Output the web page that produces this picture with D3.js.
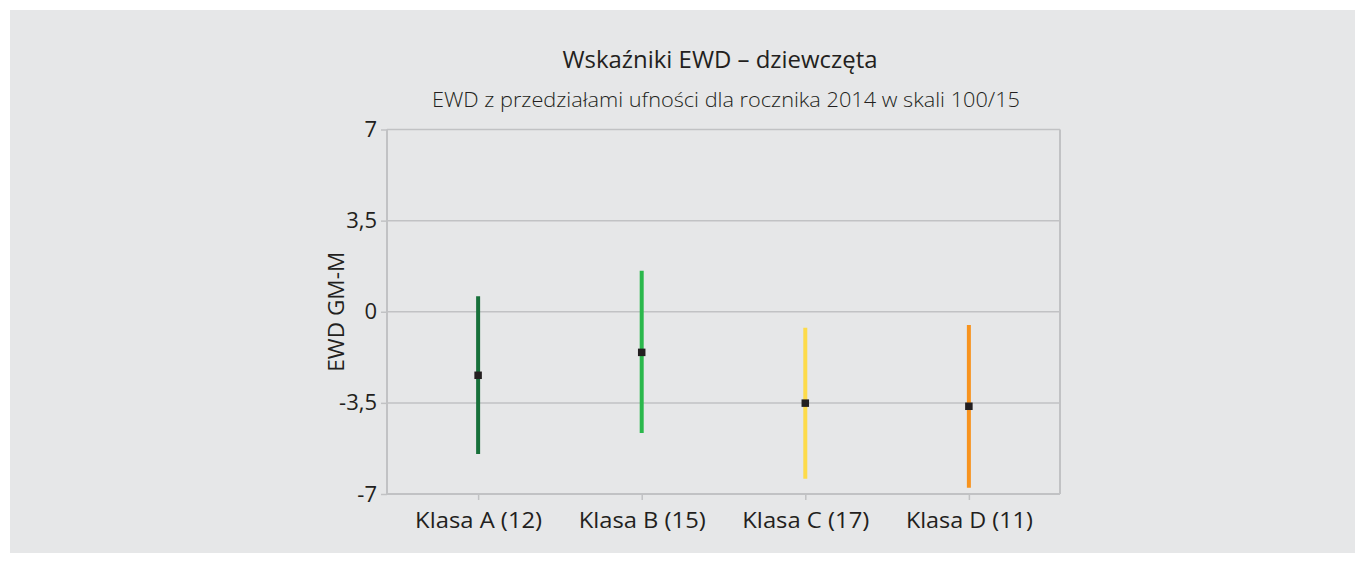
<!DOCTYPE html>
<html>
<head>
<meta charset="utf-8">
<script src="https://cdn.jsdelivr.net/npm/d3@7/dist/d3.min.js"></script>
<style>
  html, body { margin: 0; padding: 0; background: #ffffff; }
  svg { display: block; font-family: "Open Sans", "Noto Sans", sans-serif; }
</style>
</head>
<body>
<svg id="chart" width="1365" height="563"></svg>
<script>
// Classes and their EWD estimates with confidence intervals
const categories = ["Klasa A (12)", "Klasa B (15)", "Klasa C (17)", "Klasa D (11)"];
const ewdValues  = [-2.44, -1.56, -3.51, -3.63];
const lowerBound = [-5.46, -4.66, -6.41, -6.76];
const upperBound = [0.60, 1.57, -0.61, -0.51];
const barColors  = ["#17703a", "#2bb84c", "#fddb4a", "#f7931e"];
const yTicks     = [-7, -3.5, 0, 3.5, 7];

const titleText    = "Wskaźniki EWD – dziewczęta";
const subtitleText = "EWD z przedziałami ufności dla rocznika 2014 w skali 100/15";
const yAxisLabel   = "EWD GM-M";

const svg = d3.select("#chart");
const W = 1365, H = 563;

// Panel background
svg.append("rect")
  .attr("x", 10).attr("y", 10)
  .attr("width", W - 20).attr("height", H - 20)
  .attr("fill", "#e6e7e8");

const plot = { left: 387, right: 1060, top: 129.5, bottom: 494 };

const x = d3.scalePoint()
  .domain(categories)
  .range([plot.left, plot.right])
  .padding(0.557);

const y = d3.scaleLinear()
  .domain([-7, 7])
  .range([plot.bottom, plot.top]);

const fmt = d => String(d).replace(".", ",");

// Horizontal gridlines
svg.append("g")
  .selectAll("line")
  .data(yTicks)
  .join("line")
  .attr("x1", plot.left).attr("x2", plot.right)
  .attr("y1", d => y(d)).attr("y2", d => y(d))
  .attr("stroke", "#c1c2c4")
  .attr("stroke-width", 1.5);

// Plot frame (left and right borders)
svg.append("line")
  .attr("x1", plot.left).attr("x2", plot.left)
  .attr("y1", plot.top).attr("y2", plot.bottom)
  .attr("stroke", "#c1c2c4").attr("stroke-width", 2);
svg.append("line")
  .attr("x1", plot.right).attr("x2", plot.right)
  .attr("y1", plot.top).attr("y2", plot.bottom)
  .attr("stroke", "#c1c2c4").attr("stroke-width", 2);

// Y axis
const yAxis = svg.append("g")
  .attr("transform", `translate(${plot.left},0)`)
  .call(d3.axisLeft(y).tickValues(yTicks).tickFormat(fmt).tickSize(6).tickPadding(4));
yAxis.select(".domain").remove();
yAxis.selectAll(".tick line").attr("stroke", "#c1c2c4").attr("stroke-width", 1.5);
yAxis.selectAll(".tick text")
  .attr("fill", "#231f20")
  .style("font-size", "22px")
  .style("font-family", "'Open Sans', sans-serif");

// X axis
const xAxis = svg.append("g")
  .attr("transform", `translate(0,${plot.bottom})`)
  .call(d3.axisBottom(x).tickSize(6).tickPadding(12));
xAxis.select(".domain")
  .attr("d", `M${plot.left},0H${plot.right}`)
  .attr("stroke", "#c1c2c4").attr("stroke-width", 2);
xAxis.selectAll(".tick line").attr("stroke", "#c1c2c4").attr("stroke-width", 1.5);
xAxis.selectAll(".tick text")
  .attr("fill", "#231f20")
  .style("font-size", "22px")
  .style("font-family", "'Open Sans', sans-serif")
  .attr("textLength", 127)
  .attr("lengthAdjust", "spacingAndGlyphs");

// Confidence interval bars
const rows = categories.map((c, i) => ({
  cat: c, v: ewdValues[i], lo: lowerBound[i], hi: upperBound[i], color: barColors[i]
}));

svg.append("g")
  .selectAll("line")
  .data(rows)
  .join("line")
  .attr("x1", d => x(d.cat)).attr("x2", d => x(d.cat))
  .attr("y1", d => y(d.hi)).attr("y2", d => y(d.lo))
  .attr("stroke", d => d.color)
  .attr("stroke-width", 4);

// EWD point estimates
const s = 7.5;
svg.append("g")
  .selectAll("rect")
  .data(rows)
  .join("rect")
  .attr("x", d => x(d.cat) - s / 2)
  .attr("y", d => y(d.v) - s / 2)
  .attr("width", s).attr("height", s)
  .attr("fill", "#231f20");

// Titles
svg.append("text")
  .attr("x", 720).attr("y", 68)
  .attr("text-anchor", "middle")
  .attr("fill", "#231f20")
  .style("font-size", "23px")
  .attr("textLength", 315)
  .attr("lengthAdjust", "spacingAndGlyphs")
  .text(titleText);

svg.append("text")
  .attr("x", 726).attr("y", 107)
  .attr("text-anchor", "middle")
  .attr("fill", "#231f20")
  .style("font-size", "20px")
  .style("font-weight", "300")
  .attr("textLength", 588)
  .attr("lengthAdjust", "spacingAndGlyphs")
  .text(subtitleText);

// Y axis title
svg.append("text")
  .attr("transform", `translate(344,${(plot.top + plot.bottom) / 2}) rotate(-90)`)
  .attr("text-anchor", "middle")
  .attr("fill", "#231f20")
  .style("font-size", "22px")
  .attr("textLength", 120)
  .attr("lengthAdjust", "spacingAndGlyphs")
  .text(yAxisLabel);
</script>
</body>
</html>
